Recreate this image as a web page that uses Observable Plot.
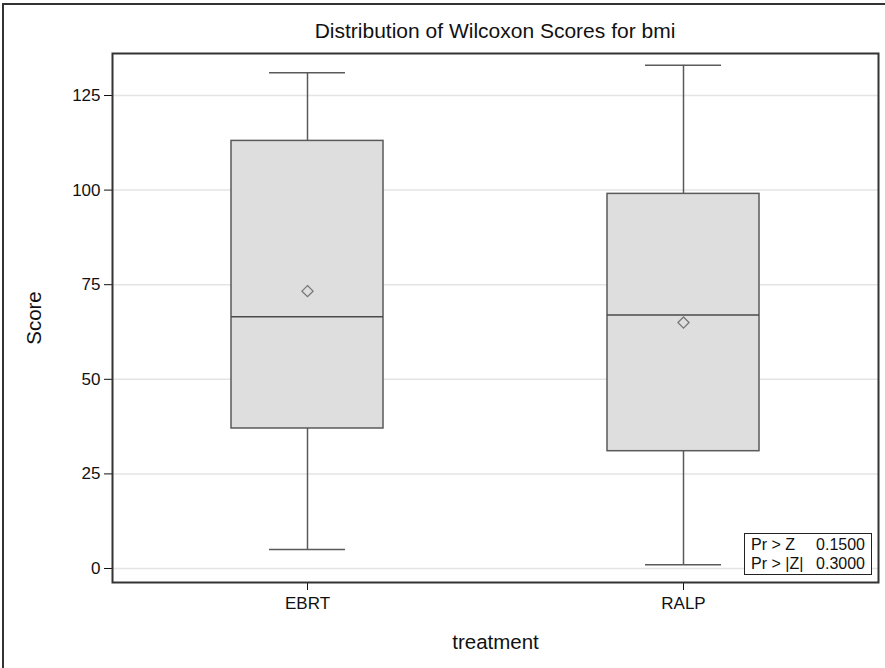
<!DOCTYPE html>
<html>
<head>
<meta charset="utf-8">
<script src="https://cdn.jsdelivr.net/npm/d3@7"></script>
<script src="https://cdn.jsdelivr.net/npm/@observablehq/plot@0.6"></script>
<style>
  html, body { margin: 0; padding: 0; background: #fff; }
  #wrap { position: relative; width: 885px; height: 668px; overflow: hidden; font-family: "Liberation Sans", Arial, sans-serif; }
  #border { position: absolute; left: 2px; top: 3px; width: 890px; height: 700px; border: 2px solid #333; box-sizing: border-box; }
  #title { position: absolute; left: 112px; top: 19px; width: 766px; text-align: center; font-size: 21px; color: #111; }
  #chart { position: absolute; left: 0; top: 43px; }
  #chart svg g[aria-label="y-axis tick label"], #chart svg g[aria-label="x-axis tick label"] { font-size: 17px !important; }
  #chart svg g[aria-label="y-axis label"], #chart svg g[aria-label="x-axis label"] { font-size: 20.5px !important; }
  #stats { position: absolute; left: 744px; top: 533px; width: 128px; height: 42px; border: 1.5px solid #222; box-sizing: border-box; background: #fff; font-size: 16px; color: #111; line-height: 19px; padding: 1px 6px 0 6px; }
  #stats .row { display: flex; justify-content: space-between; }
</style>
</head>
<body>
<div id="wrap">
  <div id="border"></div>
  <div id="title"></div>
  <div id="chart"></div>
  <div id="stats"></div>
</div>
<script>
const titleText = "Distribution of Wilcoxon Scores for bmi";
const groups = ["EBRT", "RALP"];
const whiskerLow = [5, 1];
const q1 = [37, 31];
const median = [66.5, 67];
const q3 = [113, 99];
const whiskerHigh = [131, 133];
const mean = [73.3, 65];
const yTicks = [0, 25, 50, 75, 100, 125];
const statLabels = ["Pr > Z", "Pr > |Z|"];
const statValues = ["0.1500", "0.3000"];

const rows = groups.map((g, i) => ({
  g, lo: whiskerLow[i], q1: q1[i], med: median[i], q3: q3[i], hi: whiskerHigh[i], mean: mean[i]
}));

document.getElementById("title").textContent = titleText;

const stats = document.getElementById("stats");
statLabels.forEach((l, i) => {
  const r = document.createElement("div");
  r.className = "row";
  const a = document.createElement("span"); a.textContent = l;
  const b = document.createElement("span"); b.textContent = statValues[i];
  r.append(a, b);
  stats.append(r);
});

const boxStroke = "#5a5a5a";
const chart = Plot.plot({
  width: 885,
  height: 625,
  marginLeft: 112,
  marginRight: 7,
  marginTop: 10,
  marginBottom: 86,
  style: { fontFamily: "Liberation Sans, Arial, sans-serif", fontSize: "17px", color: "#111", background: "transparent" },
  x: { domain: groups, paddingInner: 0.597, paddingOuter: 0.3145 },
  y: { domain: [-3.7, 136.1] },
  marks: [
    Plot.gridY(yTicks, { stroke: "#e4e4e4", strokeOpacity: 1, strokeWidth: 1.5 }),
    Plot.ruleX(rows, { x: "g", y1: "lo", y2: "q1", stroke: boxStroke, strokeWidth: 1.5 }),
    Plot.ruleX(rows, { x: "g", y1: "q3", y2: "hi", stroke: boxStroke, strokeWidth: 1.5 }),
    Plot.tickY(rows, { x: "g", y: "lo", insetLeft: 38, insetRight: 38, stroke: boxStroke, strokeWidth: 1.5 }),
    Plot.tickY(rows, { x: "g", y: "hi", insetLeft: 38, insetRight: 38, stroke: boxStroke, strokeWidth: 1.5 }),
    Plot.barY(rows, { x: "g", y1: "q1", y2: "q3", fill: "#dedede", stroke: boxStroke, strokeWidth: 1.5 }),
    Plot.tickY(rows, { x: "g", y: "med", stroke: "#4a4a4a", strokeWidth: 1.5 }),
    Plot.dot(rows, { x: "g", y: "mean", symbol: "diamond2", r: 5, stroke: "#777", strokeWidth: 1.3, fill: "none" }),
    Plot.axisY({ ticks: yTicks, tickSize: 8, tickPadding: 4, fontSize: 17, label: "Score", labelAnchor: "center", labelArrow: "none", labelOffset: 86 }),
    Plot.axisX({ tickSize: 8, tickPadding: 6, fontSize: 17, label: "treatment", labelAnchor: "center", labelArrow: "none", labelOffset: 66 }),
    Plot.frame({ stroke: "#333", strokeWidth: 2 })
  ]
});
document.getElementById("chart").append(chart);
</script>
</body>
</html>
